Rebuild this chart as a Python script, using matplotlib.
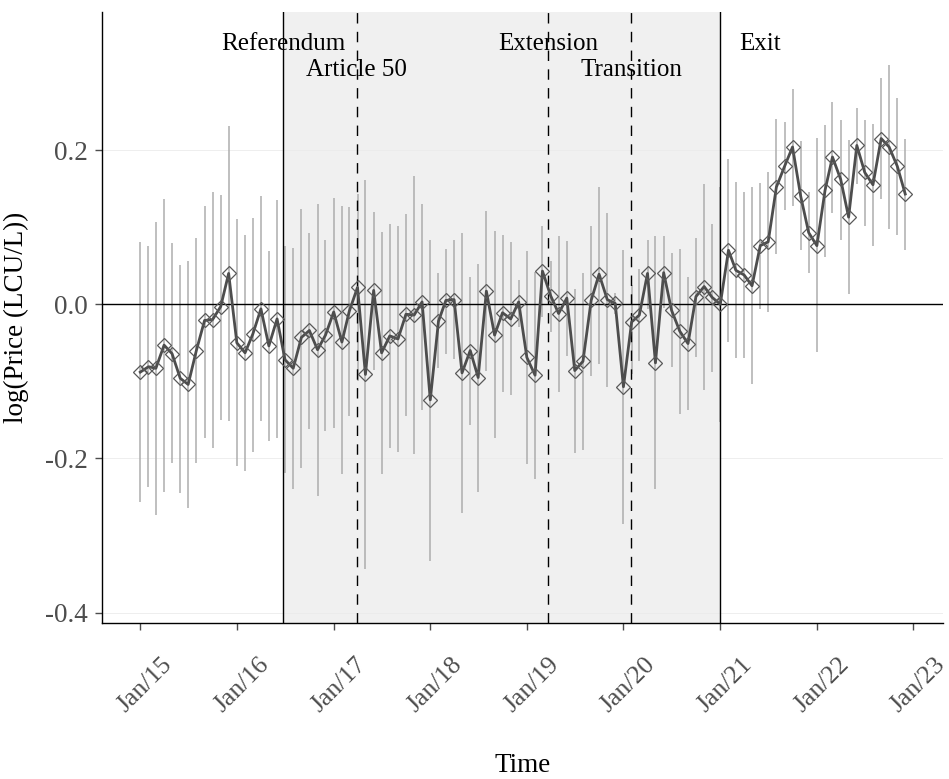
"""Brexit timeline: monthly log price with interval bars."""

import matplotlib
matplotlib.use("Agg")
import matplotlib.pyplot as plt
import matplotlib.dates as mdates
import matplotlib.transforms as mtransforms
import numpy as np
import pandas as pd

plt.rcParams["font.family"] = ["Liberation Serif", "DejaVu Serif"]
plt.rcParams["axes.unicode_minus"] = False

MONTHS = pd.date_range("2015-01-01", periods=96, freq="MS")

LOG_PRICE = [
    -0.088, -0.081, -0.083, -0.053, -0.064, -0.096, -0.104, -0.060, -0.021, -0.020, -0.003, 0.040,
    -0.050, -0.063, -0.039, -0.006, -0.054, -0.019, -0.072, -0.083, -0.043, -0.034, -0.059, -0.040,
    -0.010, -0.049, -0.009, 0.022, -0.091, 0.018, -0.063, -0.041, -0.045, -0.013, -0.014, 0.003,
    -0.124, -0.022, 0.005, 0.006, -0.089, -0.060, -0.095, 0.017, -0.040, -0.011, -0.019, 0.003,
    -0.069, -0.092, 0.043, 0.011, -0.012, 0.008, -0.086, -0.074, 0.005, 0.039, 0.006, 0.001,
    -0.107, -0.023, -0.014, 0.040, -0.076, 0.041, -0.008, -0.035, -0.051, 0.010, 0.023, 0.009,
    0.000, 0.070, 0.044, 0.038, 0.024, 0.076, 0.081, 0.152, 0.179, 0.204, 0.140, 0.093,
    0.076, 0.148, 0.191, 0.162, 0.113, 0.206, 0.171, 0.155, 0.215, 0.204, 0.179, 0.143,
]
UPPER = [
    0.081, 0.076, 0.107, 0.136, 0.079, 0.051, 0.056, 0.086, 0.128, 0.146, 0.142, 0.231,
    0.111, 0.090, 0.112, 0.140, 0.069, 0.135, 0.076, 0.073, 0.123, 0.092, 0.130, 0.084,
    0.138, 0.127, 0.126, 0.143, 0.161, 0.120, 0.094, 0.104, 0.102, 0.117, 0.166, 0.130,
    0.084, 0.041, 0.072, 0.084, 0.093, 0.036, 0.052, 0.121, 0.095, 0.090, 0.081, 0.032,
    0.069, 0.042, 0.101, 0.056, 0.089, 0.082, 0.020, 0.041, 0.101, 0.152, 0.118, 0.015,
    0.070, 0.025, 0.046, 0.083, 0.089, 0.089, 0.066, 0.072, 0.035, 0.086, 0.156, 0.104,
    0.152, 0.188, 0.158, 0.145, 0.152, 0.157, 0.172, 0.240, 0.236, 0.279, 0.212, 0.146,
    0.216, 0.233, 0.263, 0.239, 0.213, 0.255, 0.239, 0.234, 0.293, 0.311, 0.268, 0.215,
]
LOWER = [
    -0.257, -0.237, -0.273, -0.243, -0.206, -0.245, -0.264, -0.206, -0.174, -0.187, -0.150, -0.152,
    -0.210, -0.216, -0.191, -0.152, -0.177, -0.174, -0.219, -0.239, -0.212, -0.162, -0.249, -0.165,
    -0.160, -0.220, -0.145, -0.100, -0.344, -0.085, -0.220, -0.187, -0.191, -0.145, -0.194, -0.137,
    -0.333, -0.083, -0.065, -0.071, -0.271, -0.157, -0.243, -0.086, -0.174, -0.114, -0.118, -0.029,
    -0.207, -0.227, -0.016, -0.036, -0.114, -0.067, -0.193, -0.189, -0.093, -0.078, -0.107, -0.012,
    -0.285, -0.090, -0.074, -0.006, -0.240, -0.005, -0.081, -0.142, -0.137, -0.068, -0.111, -0.088,
    -0.153, -0.049, -0.070, -0.070, -0.103, -0.006, -0.010, 0.065, 0.122, 0.127, 0.071, 0.040,
    -0.062, 0.061, 0.118, 0.083, 0.013, 0.156, 0.102, 0.076, 0.136, 0.097, 0.090, 0.071,
]

EVENTS = ["Referendum", "Article 50", "Extension", "Transition", "Exit"]
EVENT_DATES = ["2016-06-23", "2017-03-29", "2019-03-21", "2020-01-31", "2020-12-31"]
EVENT_STYLES = ["-", "--", "--", "--", "-"]
LABEL_DATES = ["2016-06-23", "2017-03-29", "2019-03-21", "2020-01-31", "2021-06-01"]
LABEL_Y = [0.330, 0.296, 0.330, 0.296, 0.330]

TICK_GREY = "#4d4d4d"


def plot(out_png="out.png"):
    fig = plt.figure(figsize=(9.49, 7.79), dpi=100, facecolor="white")
    ax = fig.add_axes([0.1075, 0.2003, 0.8867, 0.7837])

    ev = pd.to_datetime(EVENT_DATES)
    ax.axvspan(ev[0], ev[-1], color="#f0f0f0", zorder=0, lw=0)
    for y in (-0.4, -0.2, 0.2):
        ax.axhline(y, color="#ebebeb", lw=0.6, zorder=0.5)

    y = np.array(LOG_PRICE)
    ax.vlines(MONTHS, LOWER, UPPER, color="#adadad", lw=1.1, zorder=2)
    ax.axhline(0, color="black", lw=1.0, zorder=2.5)
    for d, ls in zip(ev, EVENT_STYLES):
        if ls == "--":
            ax.axvline(d, color="black", lw=1.0, linestyle=(0, (7.5, 6)), zorder=3)
        else:
            ax.axvline(d, color="black", lw=1.0, zorder=3)
    ax.plot(MONTHS, y, color="#4d4d4d", lw=2.0, zorder=4)
    ax.plot(MONTHS, y, linestyle="none", marker="D", markersize=7,
            markerfacecolor="none", markeredgecolor="#595959", markeredgewidth=0.9, zorder=5)

    for name, d, ly in zip(EVENTS, pd.to_datetime(LABEL_DATES), LABEL_Y):
        ax.text(d, ly, name, ha="center", va="baseline", fontsize=18, color="black", zorder=6)

    span = MONTHS[-1] - MONTHS[0]
    ax.set_xlim(MONTHS[0] - span * 0.05, MONTHS[-1] + span * 0.05)
    ax.set_ylim(-0.4134, 0.3785)
    ax.set_yticks([-0.4, -0.2, 0.0, 0.2])
    ax.set_yticklabels(["-0.4", "-0.2", "0.0", "0.2"])
    ax.xaxis.set_major_locator(mdates.YearLocator())
    ax.xaxis.set_major_formatter(mdates.DateFormatter("%b/%y"))

    for s in ("top", "right"):
        ax.spines[s].set_visible(False)
    for s in ("left", "bottom"):
        ax.spines[s].set_color("black")
        ax.spines[s].set_linewidth(1.0)
    ax.tick_params(axis="both", colors=TICK_GREY, labelcolor=TICK_GREY,
                   length=5, width=1.0, direction="out")
    ax.tick_params(axis="y", pad=5, labelsize=19.5)
    ax.tick_params(axis="x", pad=17, labelsize=18.5)
    shift = mtransforms.ScaledTranslation(5 / 100, 0, fig.dpi_scale_trans)
    for lbl in ax.get_xticklabels():
        lbl.set_rotation(45)
        lbl.set_ha("center")
        lbl.set_va("top")
        lbl.set_transform(lbl.get_transform() + shift)

    ax.set_xlabel("Time", fontsize=19.5, color="black", labelpad=26)
    ax.set_ylabel("log(Price (LCU/L))", fontsize=19.5, color="black", labelpad=12)

    fig.savefig(out_png, dpi=100, facecolor="white")
    plt.close(fig)


def main():
    plot()


if __name__ == "__main__":
    main()
